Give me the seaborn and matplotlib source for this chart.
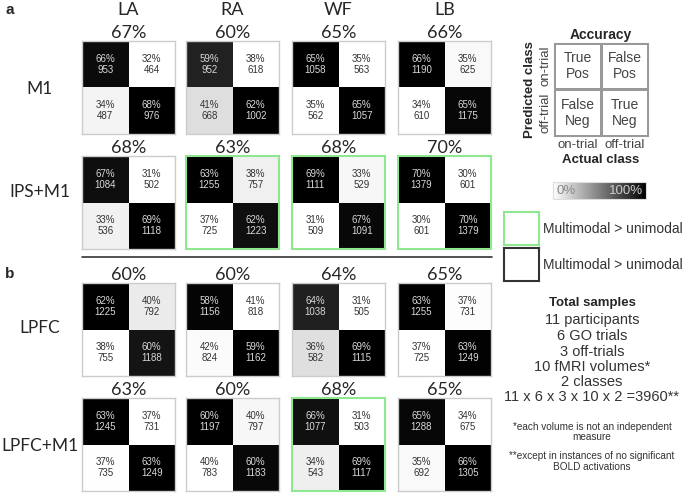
import numpy as np
import matplotlib
matplotlib.use("Agg")
import matplotlib.pyplot as plt
import seaborn as sns
from matplotlib.cm import ScalarMappable

sns.set_style("white")
plt.rcParams['font.family'] = ['Liberation Sans', 'DejaVu Sans']

# Data: each matrix is [[TP, FP], [FN, TN]]
columns = ['LA', 'RA', 'WF', 'LB']
rows = ['M1', 'IPS+M1', 'LPFC', 'LPFC+M1']

m1_counts = [[[953, 464], [487, 976]], [[952, 618], [668, 1002]],
             [[1058, 563], [562, 1057]], [[1190, 625], [610, 1175]]]
m1_pct = [[[66, 32], [34, 68]], [[59, 38], [41, 62]],
          [[65, 35], [35, 65]], [[66, 35], [34, 65]]]
m1_acc = [67, 60, 65, 66]

ips_m1_counts = [[[1084, 502], [536, 1118]], [[1255, 757], [725, 1223]],
                 [[1111, 529], [509, 1091]], [[1379, 601], [601, 1379]]]
ips_m1_pct = [[[67, 31], [33, 69]], [[63, 38], [37, 62]],
              [[69, 33], [31, 67]], [[70, 30], [30, 70]]]
ips_m1_acc = [68, 63, 68, 70]

lpfc_counts = [[[1225, 792], [755, 1188]], [[1156, 818], [824, 1162]],
               [[1038, 505], [582, 1115]], [[1255, 731], [725, 1249]]]
lpfc_pct = [[[62, 40], [38, 60]], [[58, 41], [42, 59]],
            [[64, 31], [36, 69]], [[63, 37], [37, 63]]]
lpfc_acc = [60, 60, 64, 65]

lpfc_m1_counts = [[[1245, 731], [735, 1249]], [[1197, 797], [783, 1183]],
                  [[1077, 503], [543, 1117]], [[1288, 675], [692, 1305]]]
lpfc_m1_pct = [[[63, 37], [37, 63]], [[60, 40], [40, 60]],
               [[66, 31], [34, 69]], [[65, 34], [35, 66]]]
lpfc_m1_acc = [63, 60, 68, 65]

highlight = [[False] * 4, [False, True, True, True],
             [False] * 4, [False, False, True, False]]

all_counts = [m1_counts, ips_m1_counts, lpfc_counts, lpfc_m1_counts]
all_pct = [m1_pct, ips_m1_pct, lpfc_pct, lpfc_m1_pct]
all_acc = [m1_acc, ips_m1_acc, lpfc_acc, lpfc_m1_acc]

W, H = 685, 494
fig = plt.figure(figsize=(W / 100, H / 100), dpi=100)


def box(x, y, w, h):
    return [x / W, 1 - (y + h) / H, w / W, h / H]


big_font = ['Lato', 'DejaVu Sans']
green = '#8fe88f'
col_x = [82, 186, 292, 398]
row_y = [41, 156, 283, 398]
row_label_y = [89, 192, 328, 446]

for r in range(4):
    for c in range(4):
        ax = fig.add_axes(box(col_x[c], row_y[r], 93, 93))
        counts = np.array(all_counts[r][c])
        pct = np.array(all_pct[r][c])
        labels = np.array([[f"{p}%\n{n}" for p, n in zip(pr, nr)]
                           for pr, nr in zip(pct, counts)])
        sns.heatmap(counts, ax=ax, cmap='gray_r', cbar=False, annot=labels,
                    fmt='', annot_kws={'fontsize': 7, 'linespacing': 1.15},
                    xticklabels=False, yticklabels=False)
        for t in ax.texts:
            t.set_color('#d8d8d8' if t.get_color() == 'w' else '#333333')
        edge = green if highlight[r][c] else '#cccccc'
        for s in ax.spines.values():
            s.set_visible(True)
            s.set_color(edge)
            s.set_linewidth(1.5 if highlight[r][c] else 1.0)
        ax.set_title(f"{all_acc[r][c]}%", fontsize=13, pad=1.5,
                     family=big_font)
        if r == 0:
            fig.text((col_x[c] + 46.5) / W, 1 - 10 / H, columns[c],
                     fontsize=13, ha='center', va='center', family=big_font)
    fig.text(40 / W, 1 - row_label_y[r] / H, rows[r], fontsize=12.5,
             ha='center', va='center', family=big_font)

fig.text(5 / W, 1 - 10 / H, 'a', fontsize=11, fontweight='bold', va='center')
fig.text(5 / W, 1 - 274 / H, 'b', fontsize=11, fontweight='bold', va='center')
fig.add_artist(plt.Line2D([82 / W, 492 / W], [1 - 257 / H, 1 - 257 / H],
                          color='#333333', lw=1.2, transform=fig.transFigure))

# Key matrix
kax = fig.add_axes(box(554, 43, 94, 93))
key_text = np.array([["True\nPos", "False\nPos"], ["False\nNeg", "True\nNeg"]])
sns.heatmap(np.zeros((2, 2)), ax=kax, cmap=['white'], cbar=False,
            annot=key_text, fmt='', annot_kws={'fontsize': 10, 'color': '#444444'},
            linewidths=1, linecolor='#999999',
            xticklabels=['on-trial', 'off-trial'],
            yticklabels=['on-trial', 'off-trial'])
for s in kax.spines.values():
    s.set_visible(True)
    s.set_color('#999999')
kax.tick_params(length=0, pad=2, labelsize=9.5, labelcolor='#444444')
kax.set_yticklabels(['on-trial', 'off-trial'], rotation=90, va='center')
kax.set_title('Accuracy', fontsize=10, fontweight='bold', pad=3)
kax.set_xlabel('Actual class', fontsize=9.5, fontweight='bold', labelpad=2)
kax.set_ylabel('Predicted class', fontsize=9.5, fontweight='bold', labelpad=2)

# Gradient bar
cax = fig.add_axes(box(553, 182, 93, 17))
cb = fig.colorbar(ScalarMappable(cmap='gray_r'), cax=cax, orientation='horizontal')
cb.set_ticks([])
cb.outline.set_edgecolor('#dddddd')
cax.text(0.04, 0.45, '0%', transform=cax.transAxes, ha='left', va='center',
         fontsize=9.5, color='#888888')
cax.text(0.97, 0.45, '100%', transform=cax.transAxes, ha='right', va='center',
         fontsize=9.5, color='#cccccc')

# Border legend
for y0, col, lw in [(212, green, 1.5), (248, '#333333', 1.5)]:
    lax = fig.add_axes(box(504, y0, 35, 33))
    lax.set_xticks([])
    lax.set_yticks([])
    for s in lax.spines.values():
        s.set_color(col)
        s.set_linewidth(lw)
    fig.text(543 / W, 1 - (y0 + 17) / H, 'Multimodal > unimodal', fontsize=10,
             ha='left', va='center', color='#333333')

# Sample summary
cx = 592 / W
fig.text(cx, 1 - 303 / H, 'Total samples', fontsize=9.5, fontweight='bold',
         ha='center', va='center')
summary = ['11 participants', '6 GO trials', '3 off-trials',
           '10 fMRI volumes*', '2 classes', '11 x 6 x 3 x 10 x 2 =3960**']
summary_y = [320, 336, 352, 367, 382, 397]
for line, y in zip(summary, summary_y):
    fig.text(cx, 1 - y / H, line, fontsize=10.5, ha='center', va='center',
             color='#333333')
notes = ['*each volume is not an independent', 'measure',
         '**except in instances of no significant', 'BOLD activations']
notes_y = [427, 437, 456, 467]
for line, y in zip(notes, notes_y):
    fig.text(cx, 1 - y / H, line, fontsize=7.2, ha='center', va='center',
             color='#333333')

fig.savefig('out.png', dpi=100)
